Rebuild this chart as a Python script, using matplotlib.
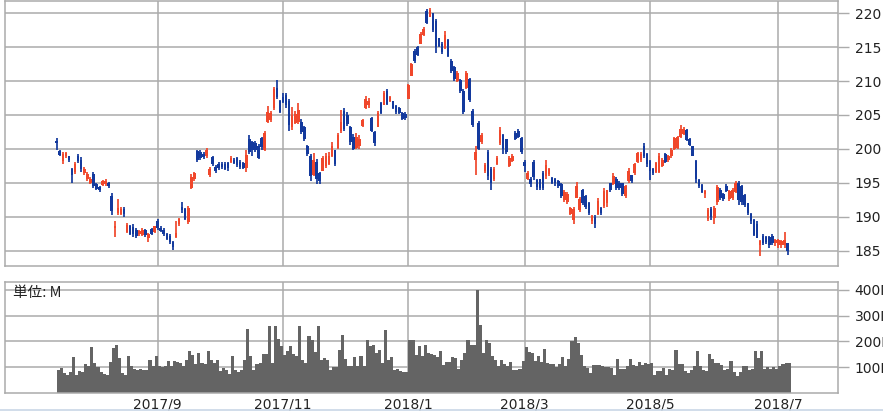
"""Daily candlestick chart with volume panel (2017/7 - 2018/7)."""

import matplotlib

matplotlib.use("Agg")
import matplotlib.pyplot as plt  # noqa: E402
import numpy as np  # noqa: E402
import pandas as pd  # noqa: E402
from matplotlib.lines import Line2D  # noqa: E402

# trading calendar (weekdays minus exchange holidays)
start_date = "2017-07-14"
end_date = "2018-07-05"
holidays = [
    "2017-07-17", "2017-08-11", "2017-09-18", "2017-10-09", "2017-11-03",
    "2017-11-23", "2018-01-01", "2018-01-02", "2018-01-03", "2018-01-08",
    "2018-02-12", "2018-03-21", "2018-04-30", "2018-05-03", "2018-05-04",
]
tick_months = ["2017-09", "2017-11", "2018-01", "2018-03", "2018-05", "2018-07"]

opens = [
    201.2, 199.7, 198.2, 198.9, 198.9, 197.0, 196.6, 199.0, 198.3, 196.4,
    195.5, 195.0, 196.3, 194.8, 194.4, 194.7, 194.8, 195.0, 193.0, 188.3,
    190.6, 190.4, 191.2, 187.8, 188.6, 188.5, 188.0, 187.4, 187.3, 188.0,
    186.9, 188.2, 187.8, 189.4, 188.4, 188.1, 187.4, 187.2, 186.3, 187.0,
    188.9, 191.5, 191.1, 189.2, 194.3, 195.5, 199.7, 199.6, 199.2, 198.9,
    196.1, 198.8, 197.4, 197.8, 197.8, 197.7, 197.9, 198.1, 198.4, 198.6,
    198.1, 197.9, 197.2, 201.5, 201.0, 200.9, 200.5, 201.6, 199.9, 204.0,
    204.2, 206.0, 209.0, 207.0, 207.7, 208.0, 207.0, 203.2, 203.8, 203.9,
    204.0, 203.2, 200.4, 199.0, 196.2, 198.0, 196.5, 196.8, 197.5, 197.8,
    199.0, 199.8, 200.2, 202.6, 205.6, 205.0, 203.2, 201.8, 200.2, 200.4,
    203.4, 206.0, 206.5, 204.5, 202.5, 203.3, 206.8, 206.5, 208.6, 207.0,
    207.0, 206.3, 206.0, 205.3, 205.2, 207.4, 210.8, 214.5, 215.0, 215.5,
    216.8, 220.3, 219.5, 220.0, 218.8, 216.3, 215.5, 214.8, 216.0, 213.0,
    212.0, 210.0, 210.1, 208.5, 209.0, 210.3, 205.6, 198.4, 203.8, 201.0,
    196.7, 199.5, 197.0, 195.5, 197.8, 200.8, 202.0, 201.4, 197.5, 198.2,
    202.3, 202.6, 201.6, 198.1, 195.6, 195.6, 198.0, 195.4, 195.5, 196.5,
    196.0, 196.3, 195.7, 195.5, 195.2, 194.8, 192.4, 192.2, 190.4, 189.5,
    192.8, 191.0, 193.9, 193.0, 192.0, 189.3, 190.0, 190.4, 191.3, 191.6,
    192.0, 194.9, 194.8, 195.6, 195.0, 195.0, 193.0, 195.2, 196.1, 196.4,
    198.0, 198.3, 200.5, 199.2, 198.2, 197.1, 196.6, 196.6, 197.5, 199.2,
    198.3, 199.0, 200.0, 200.2, 201.8, 202.2, 202.8, 201.5, 200.4, 198.2,
    195.4, 194.7, 193.4, 189.6, 191.2, 189.8, 192.2, 194.0, 193.4, 194.6,
    192.6, 192.8, 193.6, 194.9, 194.6, 193.2, 192.0, 190.4, 189.5, 189.0,
    185.8, 187.2, 187.0, 187.0, 187.2, 186.1, 185.9, 185.8, 185.9, 186.1,
]
highs = [
    201.6, 199.9, 199.6, 199.6, 199.0, 197.2, 198.0, 199.3, 198.8, 197.3,
    196.6, 195.8, 196.6, 195.0, 194.6, 195.4, 195.5, 195.1, 193.5, 189.4,
    192.6, 191.5, 191.4, 189.1, 188.8, 188.9, 188.3, 188.1, 188.4, 188.2,
    187.6, 188.3, 188.7, 189.7, 188.6, 188.3, 187.6, 187.4, 186.4, 189.4,
    189.8, 192.1, 191.3, 191.6, 196.3, 196.6, 199.9, 199.9, 199.5, 200.1,
    197.3, 199.0, 197.6, 198.0, 198.1, 198.0, 198.0, 198.9, 198.6, 198.8,
    198.3, 198.0, 199.8, 202.0, 201.2, 201.2, 200.7, 201.7, 202.7, 206.3,
    205.6, 209.1, 210.1, 207.2, 208.2, 208.2, 207.4, 206.2, 205.6, 206.8,
    204.4, 203.4, 200.6, 199.3, 199.4, 198.5, 196.6, 199.0, 199.4, 199.6,
    201.0, 199.9, 202.4, 205.8, 206.1, 205.4, 203.4, 202.2, 202.4, 202.0,
    204.4, 207.8, 207.5, 204.7, 202.7, 205.6, 206.9, 208.6, 208.8, 207.8,
    207.1, 206.4, 206.2, 205.4, 205.4, 209.6, 212.7, 214.7, 215.2, 217.2,
    217.9, 220.6, 220.8, 220.1, 219.1, 216.4, 215.7, 217.4, 216.2, 213.2,
    212.2, 211.5, 210.3, 208.8, 211.5, 210.5, 205.9, 200.5, 204.1, 202.4,
    197.9, 199.8, 197.3, 197.4, 198.9, 203.2, 202.2, 201.5, 198.9, 199.2,
    202.7, 202.9, 201.7, 198.4, 196.7, 195.8, 198.3, 195.6, 195.6, 196.8,
    198.3, 197.2, 195.9, 195.7, 195.4, 194.9, 193.9, 193.7, 191.5, 191.5,
    195.1, 192.9, 194.1, 193.2, 192.2, 190.3, 190.3, 192.7, 191.4, 194.2,
    194.0, 195.0, 196.5, 195.8, 195.2, 195.0, 194.7, 197.2, 196.2, 197.9,
    199.6, 199.5, 200.8, 199.4, 198.4, 197.2, 198.1, 199.4, 198.6, 199.4,
    199.1, 200.1, 201.8, 201.9, 203.5, 203.3, 203.0, 201.6, 200.5, 198.4,
    195.5, 194.8, 194.0, 191.3, 191.5, 191.6, 194.7, 194.2, 193.5, 194.8,
    194.0, 194.2, 195.2, 195.2, 194.7, 193.3, 192.0, 190.6, 189.6, 189.3,
    186.6, 187.4, 187.1, 187.1, 187.4, 186.7, 186.7, 186.6, 187.8, 186.2,
]
lows = [
    199.9, 198.9, 197.7, 198.7, 198.0, 195.0, 196.3, 197.9, 196.6, 196.2,
    195.2, 194.8, 194.2, 193.9, 193.7, 194.5, 194.6, 194.2, 190.3, 187.0,
    190.3, 190.2, 189.9, 187.6, 187.3, 187.0, 186.9, 187.2, 187.1, 187.0,
    186.3, 187.3, 187.6, 188.0, 187.7, 187.1, 186.5, 186.0, 185.1, 186.8,
    188.7, 190.6, 189.5, 188.9, 194.1, 195.3, 198.1, 198.3, 198.5, 198.7,
    195.9, 197.5, 196.5, 196.9, 197.1, 196.9, 196.8, 197.9, 197.8, 197.3,
    197.1, 197.0, 196.6, 199.2, 199.0, 199.5, 198.5, 199.9, 199.7, 203.8,
    203.9, 205.8, 207.3, 205.3, 206.7, 206.1, 202.7, 202.8, 203.7, 203.7,
    202.2, 201.2, 199.0, 195.3, 196.0, 194.8, 194.8, 196.7, 197.2, 197.6,
    198.8, 197.5, 200.0, 202.4, 202.7, 203.4, 200.6, 199.8, 200.0, 200.0,
    203.3, 205.9, 206.0, 202.5, 200.5, 203.2, 205.1, 206.4, 206.4, 206.9,
    205.9, 205.1, 205.1, 204.2, 204.2, 207.3, 210.7, 212.7, 213.7, 215.4,
    216.7, 218.4, 219.4, 217.2, 214.2, 215.0, 214.0, 214.7, 213.5, 211.2,
    210.0, 209.8, 208.3, 205.1, 208.8, 206.9, 203.2, 196.1, 199.8, 200.7,
    196.5, 195.4, 193.9, 195.2, 197.6, 200.6, 199.3, 199.3, 197.3, 198.0,
    201.3, 201.6, 199.3, 196.6, 195.4, 194.4, 195.4, 193.9, 193.9, 193.9,
    195.6, 196.0, 194.8, 194.6, 194.3, 192.7, 192.2, 191.9, 190.2, 189.0,
    192.7, 190.7, 191.7, 191.2, 190.2, 189.0, 188.3, 190.2, 190.2, 191.3,
    191.5, 193.7, 194.7, 193.9, 194.0, 193.0, 192.7, 195.0, 195.0, 196.2,
    197.9, 198.0, 198.6, 197.4, 195.4, 196.1, 196.4, 196.4, 197.4, 197.9,
    198.1, 198.6, 199.9, 200.0, 201.6, 202.0, 201.1, 200.4, 198.9, 195.0,
    194.2, 193.5, 192.7, 189.3, 189.5, 189.0, 191.8, 192.5, 192.3, 193.7,
    192.3, 192.5, 193.5, 191.8, 191.8, 191.5, 190.3, 189.0, 187.1, 186.8,
    184.2, 185.8, 186.0, 185.4, 185.9, 185.7, 185.4, 185.4, 185.4, 184.4,
]
closes = [
    200.8, 199.1, 199.3, 199.4, 198.4, 196.1, 197.7, 198.2, 197.0, 197.0,
    196.3, 195.6, 194.6, 194.1, 194.0, 195.2, 195.3, 194.5, 190.8, 188.6,
    191.3, 191.1, 190.4, 188.8, 187.5, 187.4, 187.2, 187.9, 188.1, 187.3,
    187.4, 187.5, 188.6, 188.3, 187.9, 187.4, 186.7, 186.3, 185.5, 187.6,
    189.6, 191.0, 189.7, 191.3, 195.9, 196.4, 198.4, 198.7, 198.8, 199.9,
    197.0, 197.8, 196.8, 197.2, 197.3, 197.1, 197.2, 198.7, 197.9, 197.6,
    197.3, 197.2, 199.1, 199.6, 199.8, 199.8, 198.7, 200.3, 202.3, 205.4,
    205.3, 208.8, 207.6, 205.5, 206.9, 206.5, 203.5, 205.0, 205.1, 205.8,
    202.5, 201.4, 199.2, 196.0, 198.3, 195.6, 195.2, 198.6, 199.0, 199.0,
    200.5, 197.8, 202.0, 204.0, 203.0, 203.6, 201.0, 200.0, 201.8, 201.5,
    204.2, 207.3, 207.0, 202.7, 200.8, 205.3, 205.3, 208.3, 206.6, 207.6,
    206.0, 205.4, 205.3, 204.4, 204.5, 209.4, 212.5, 212.9, 213.9, 217.0,
    217.6, 218.6, 220.5, 217.5, 215.0, 215.2, 214.3, 216.8, 213.7, 211.5,
    210.3, 211.2, 208.6, 205.5, 211.2, 207.2, 203.5, 199.6, 200.0, 202.0,
    197.6, 196.0, 195.0, 197.0, 198.6, 202.8, 200.0, 199.6, 198.6, 199.0,
    201.5, 201.8, 199.5, 197.5, 196.4, 194.8, 195.8, 194.4, 194.2, 194.3,
    197.6, 197.0, 194.9, 194.9, 194.5, 193.0, 193.6, 193.4, 191.3, 191.2,
    194.5, 192.6, 192.0, 191.5, 190.6, 190.1, 188.9, 192.3, 190.5, 193.8,
    193.9, 194.0, 196.0, 194.2, 194.2, 193.4, 194.5, 196.8, 195.3, 197.7,
    199.4, 199.2, 199.0, 197.8, 196.8, 196.4, 197.9, 199.0, 198.4, 198.0,
    199.0, 199.9, 201.6, 201.7, 203.0, 202.9, 201.3, 200.6, 199.0, 195.6,
    194.5, 193.7, 193.8, 191.0, 190.0, 191.3, 194.4, 192.8, 192.6, 193.8,
    193.8, 194.0, 194.9, 192.5, 192.2, 191.8, 190.6, 189.3, 187.3, 186.9,
    186.4, 186.1, 186.3, 185.8, 186.2, 186.5, 186.5, 186.4, 186.6, 185.0,
]
# volume, millions of shares
volumes = [
    88, 97, 77, 71, 80, 139, 71, 84, 80, 112,
    103, 178, 116, 101, 80, 75, 71, 119, 174, 187,
    135, 77, 71, 145, 103, 93, 88, 93, 88, 90,
    129, 106, 145, 106, 101, 103, 123, 106, 123, 119,
    116, 106, 129, 161, 148, 114, 155, 116, 114, 161,
    126, 116, 129, 84, 97, 88, 75, 145, 88, 80,
    88, 129, 248, 145, 88, 114, 116, 152, 152, 258,
    116, 258, 209, 183, 148, 161, 181, 152, 145, 258,
    126, 116, 222, 206, 157, 258, 126, 135, 129, 90,
    101, 101, 168, 226, 132, 103, 103, 139, 103, 145,
    103, 204, 183, 187, 155, 168, 116, 243, 126, 139,
    90, 93, 84, 80, 80, 204, 204, 148, 181, 145,
    187, 155, 152, 148, 139, 161, 110, 119, 119, 139,
    135, 93, 129, 155, 204, 187, 187, 400, 265, 155,
    204, 194, 142, 126, 106, 126, 114, 103, 119, 88,
    88, 93, 123, 178, 157, 155, 123, 145, 119, 170,
    116, 114, 114, 101, 114, 139, 103, 132, 200, 217,
    194, 148, 103, 97, 77, 110, 110, 110, 106, 101,
    101, 97, 71, 132, 93, 93, 103, 132, 110, 103,
    119, 110, 116, 114, 116, 71, 84, 84, 97, 71,
    93, 88, 168, 114, 114, 84, 77, 88, 106, 161,
    106, 88, 84, 152, 132, 116, 116, 110, 88, 93,
    123, 80, 65, 80, 106, 106, 88, 93, 161, 135,
    161, 93, 101, 93, 101, 93, 103, 114, 116, 116,
]
price_ticks = [185, 190, 195, 200, 205, 210, 215, 220]
volume_ticks = [100, 200, 300, 400]

UP = "#f0472b"
DOWN = "#13399d"
GRID = "#ababab"

dates = pd.bdate_range(start_date, end_date)
dates = dates[~dates.isin(pd.to_datetime(holidays))]
idx = np.arange(len(dates))
o, h, l, c = (np.asarray(a) for a in (opens, highs, lows, closes))
up = c >= o
colors = np.where(up, UP, DOWN)

month_key = dates.strftime("%Y-%m")
tick_pos = [int(np.argmax(month_key == m)) for m in tick_months]
tick_lbl = [f"{int(m[:4])}/{int(m[5:])}" for m in tick_months]

fig = plt.figure(figsize=(8.83, 4.11), dpi=100)
ax = fig.add_axes([0.0057, 0.3528, 0.9434, 0.6448])
axv = fig.add_axes([0.0057, 0.0438, 0.9434, 0.2701])

for a in (ax, axv):
    a.set_axisbelow(True)
    a.grid(True, color=GRID, linewidth=1.1)
    for s in a.spines.values():
        s.set_color(GRID)
        s.set_linewidth(1.1)
    a.yaxis.tick_right()
    a.tick_params(axis="y", length=8, width=1, color=GRID, pad=4,
                  labelsize=10, labelcolor="#222222")
    a.tick_params(axis="x", length=0, labelsize=10, labelcolor="#222222")
    a.set_xticks(tick_pos)
    a.set_xlim(-16.9, 255.5)

# candles
ax.vlines(idx, l, h, colors=colors, linewidth=1.25, zorder=2)
body = np.maximum(np.abs(c - o), 0.2)
ax.bar(idx, body, bottom=np.minimum(o, c), width=0.85, color=colors,
       linewidth=0, zorder=3)
ax.set_ylim(182.74, 221.8)
ax.set_yticks(price_ticks)
ax.set_xticklabels([])

# volume
axv.bar(idx, volumes, width=1.0, align="edge", color="#646464", linewidth=0,
        zorder=2)
axv.set_ylim(0, 430)
axv.set_yticks(volume_ticks)
axv.set_yticklabels([f"{v}M" for v in volume_ticks])
axv.set_xticklabels(tick_lbl)
axv.tick_params(axis="x", pad=3)
axv.text(0.0092, 0.905, "単位: M", transform=axv.transAxes, va="center",
         ha="left", fontsize=10.5, color="#222222",
         family=["Noto Sans CJK JP", "DejaVu Sans"])

fig.add_artist(Line2D([0, 1], [0.6 / 411, 0.6 / 411], color="#c9d7e6",
                      linewidth=1.2, transform=fig.transFigure))

fig.savefig("out.png", dpi=100)
plt.close(fig)
